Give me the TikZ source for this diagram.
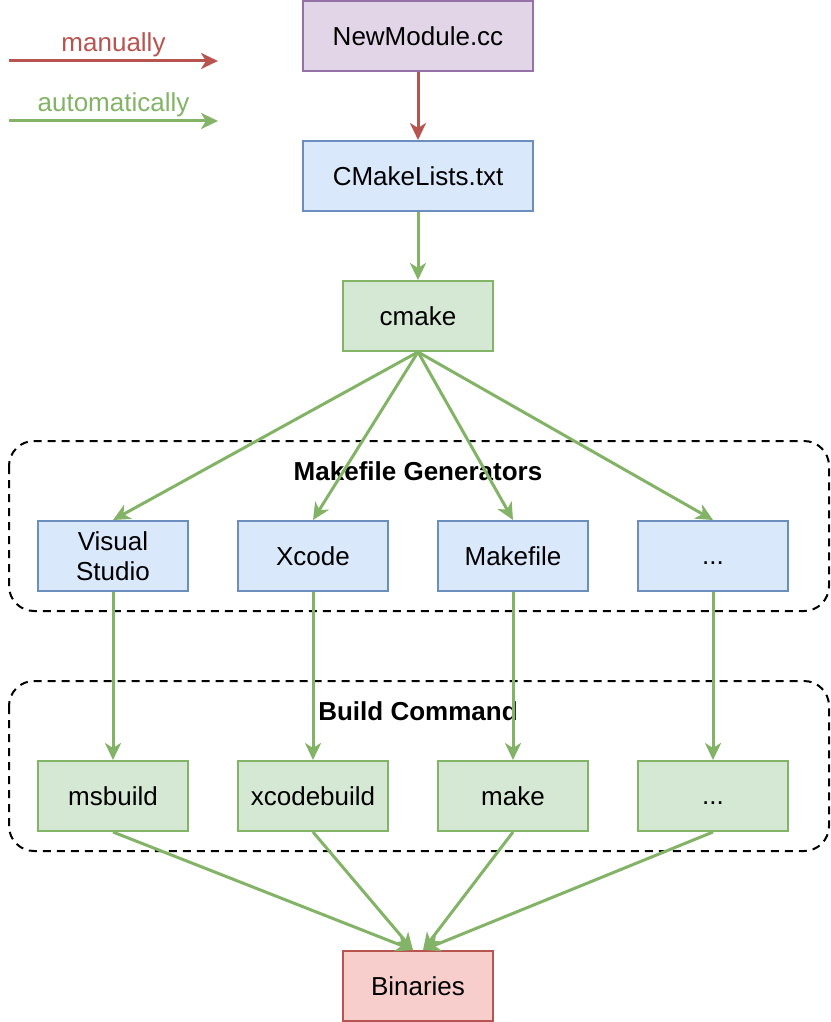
\documentclass[tikz,border=0pt]{standalone}
\usepackage{fontspec}
\setmainfont{Liberation Sans}
\usetikzlibrary{calc}
\usetikzlibrary{positioning}
\usetikzlibrary{arrows.meta}

\definecolor{purplefill}{HTML}{E1D5E7}
\definecolor{purpleline}{HTML}{9673A6}
\definecolor{bluefill}{HTML}{DAE8FC}
\definecolor{blueline}{HTML}{6C8EBF}
\definecolor{greenfill}{HTML}{D5E8D4}
\definecolor{greenline}{HTML}{82B366}
\definecolor{redfill}{HTML}{F8CECC}
\definecolor{redline}{HTML}{B85450}

\tikzset{
  txt/.style={font=\fontsize{26}{30}\selectfont},
  box/.style={txt, draw, line width=2pt, minimum width=150pt, minimum height=70pt,
    inner sep=0pt, align=center},
  widebox/.style={box, minimum width=230pt},
  filebox/.style={box, fill=bluefill, draw=blueline},
  toolbox/.style={box, fill=greenfill, draw=greenline},
  group/.style={draw, dashed, dash pattern=on 8pt off 6pt, line width=2pt, rounded corners=25pt},
  auto arrow/.style={draw=greenline, line width=3pt,
    -{Stealth[length=17pt,width=16pt,inset=5pt]}},
  manual arrow/.style={auto arrow, draw=redline}
}

\begin{document}
\begin{tikzpicture}[x=1pt,y=-1pt]
      \useasboundingbox (0,0) rectangle (830,1022);

      % legend
      \coordinate (manstart) at (9,61);
      \coordinate (manend) at (218,61);
      \coordinate (autostart) at (9,121);
      \coordinate (autoend) at (218,121);
      \draw[manual arrow] (manstart) -- (manend)
        node[midway,above=-1pt,txt,text=redline] (manlabel) {manually};
      \draw[auto arrow] (autostart) -- (autoend)
        node[midway,above=-1pt,txt,text=greenline] (autolabel) {automatically};

      % groups
      \draw[group] (9,441) rectangle (829,611);
      \draw[group] (9,681) rectangle (829,851);
      \node[txt,font=\fontsize{26}{30}\selectfont\bfseries] (gentitle) at (418,471) {Makefile Generators};
      \node[txt,font=\fontsize{26}{30}\selectfont\bfseries] (buildtitle) at (418,711) {Build Command};

      \node[widebox,fill=purplefill,draw=purpleline] (newmod) at (418,36) {NewModule.cc};
      \node[widebox,fill=bluefill,draw=blueline] (cmakelists) at (418,176) {CMakeLists.txt};
      \node[toolbox] (cmake) at (418,316) {cmake};

      \node[filebox] (vs) at (113,556) {Visual\\Studio};
      \node[filebox] (xcode) at (313,556) {Xcode};
      \node[filebox] (makefile) at (513,556) {Makefile};
      \node[filebox] (othergen) at (713,556) {\vphantom{X}...};

      \node[toolbox] (msbuild) at (113,796) {msbuild};
      \node[toolbox] (xcodebuild) at (313,796) {xcodebuild};
      \node[toolbox] (make) at (513,796) {make};
      \node[toolbox] (otherbuild) at (713,796) {\vphantom{X}...};

      \node[box,fill=redfill,draw=redline] (binaries) at (418,986) {Binaries};
      \coordinate (binleft) at ($(binaries.north)+(-5,0)$);
      \coordinate (binright) at ($(binaries.north)+(5,0)$);

      \draw[manual arrow] (newmod) -- (cmakelists);
      \draw[auto arrow] (cmakelists) -- (cmake);

      \foreach \gen/\tool in {vs/msbuild,xcode/xcodebuild,makefile/make,othergen/otherbuild}{
        \draw[auto arrow] (cmake.south) -- (\gen.north);
        \draw[auto arrow] (\gen) -- (\tool);
      }

      \draw[auto arrow] (msbuild.south) -- (binleft);
      \draw[auto arrow] (xcodebuild.south) -- (binleft);
      \draw[auto arrow] (make.south) -- (binright);
      \draw[auto arrow] (otherbuild.south) -- (binright);
\end{tikzpicture}
\end{document}
